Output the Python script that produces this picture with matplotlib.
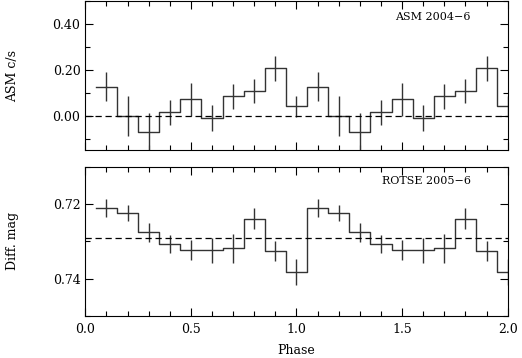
import numpy as np
import matplotlib
matplotlib.use('Agg')
import matplotlib.pyplot as plt
from matplotlib.ticker import MultipleLocator, FormatStrFormatter

plt.rcParams['font.family'] = ['DejaVu Serif']
plt.rcParams['font.size'] = 9

# phase bins (one cycle, repeated twice)
phase = [0.1, 0.2, 0.3, 0.4, 0.5, 0.6, 0.7, 0.8, 0.9, 1.0]
asm = [0.126, -0.003, -0.070, 0.014, 0.071, -0.009, 0.084, 0.109, 0.206, 0.041]
asm_err = [0.064, 0.088, 0.082, 0.054, 0.073, 0.056, 0.055, 0.052, 0.055, 0.045]
rotse = [0.7211, 0.7224, 0.7276, 0.7306, 0.7324, 0.7324, 0.7319, 0.7239, 0.7326, 0.7382]
rotse_err = [0.0025, 0.0022, 0.0025, 0.0024, 0.0027, 0.0034, 0.0038, 0.0029, 0.0027, 0.0035]
asm_mean = 0.0
rotse_mean = 0.7291

ph = np.concatenate([phase, np.array(phase) + 1.0])

fig = plt.figure(figsize=(5.22, 3.58), dpi=100)
ax1 = fig.add_axes([0.1634, 0.581, 0.8092, 0.416])
ax2 = fig.add_axes([0.1634, 0.1173, 0.8092, 0.4171])

def panel(ax, y, e, mean, label, ty):
    y2 = np.concatenate([y, y])
    e2 = np.concatenate([e, e])
    ax.step(ph, y2, where='mid', color='#333333', lw=1.0)
    # half bins at both ends
    ax.plot([ph[0] - 0.05, ph[0]], [y2[0], y2[0]], color='#333333', lw=1.0)
    ax.plot([ph[-1], ph[-1] + 0.05], [y2[-1], y2[-1]], color='#333333', lw=1.0)
    ax.errorbar(ph, y2, yerr=e2, fmt='none', ecolor='#333333', elinewidth=1.0, capsize=0)
    ax.axhline(mean, color='black', lw=0.9, ls=(0, (5, 3)))
    ax.set_xlim(0, 2.0)
    ax.xaxis.set_major_locator(MultipleLocator(0.5))
    ax.xaxis.set_minor_locator(MultipleLocator(0.1))
    ax.tick_params(which='both', direction='in', top=True, right=True, width=0.8)
    ax.tick_params(which='major', length=6)
    ax.tick_params(which='minor', length=3.5)
    ax.text(0.913, ty, label, transform=ax.transAxes, ha='right', va='center', fontsize=8)
    for s in ax.spines.values():
        s.set_linewidth(0.8)

panel(ax1, asm, asm_err, asm_mean, 'ASM 2004\u22126', 0.893)
ax1.set_ylim(-0.15, 0.5)
ax1.yaxis.set_major_locator(MultipleLocator(0.2))
ax1.yaxis.set_minor_locator(MultipleLocator(0.1))
ax1.yaxis.set_major_formatter(FormatStrFormatter('%.2f'))
ax1.set_xticklabels([])
ax1.set_ylabel('ASM c/s', labelpad=24)

panel(ax2, rotse, rotse_err, rotse_mean, 'ROTSE 2005\u22126', 0.906)
ax2.set_ylim(0.75, 0.71)
ax2.yaxis.set_major_locator(MultipleLocator(0.02))
ax2.yaxis.set_minor_locator(MultipleLocator(0.01))
ax2.yaxis.set_major_formatter(FormatStrFormatter('%.2f'))
ax2.xaxis.set_major_formatter(FormatStrFormatter('%.1f'))
ax2.set_ylabel('Diff. mag', labelpad=24)
ax2.set_xlabel('Phase', labelpad=6)
ax2.tick_params(axis='x', pad=5)

fig.align_ylabels([ax1, ax2])
fig.savefig('out.png', dpi=100)
